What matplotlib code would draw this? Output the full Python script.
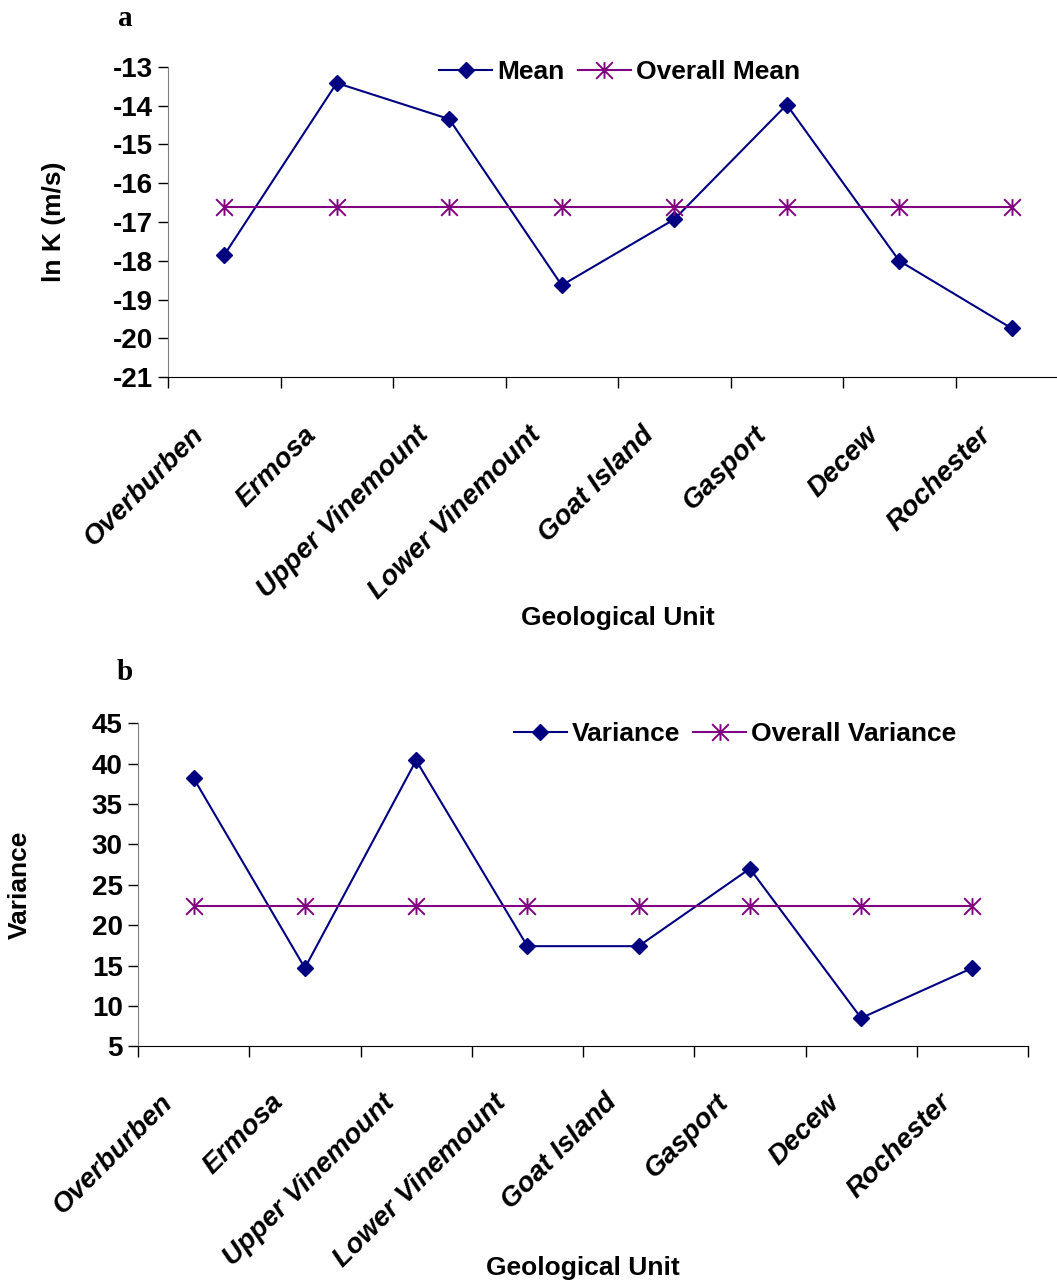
import numpy as np
import matplotlib
matplotlib.use('Agg')
import matplotlib.pyplot as plt
import matplotlib.transforms as mtransforms
from matplotlib.path import Path

units = ['Overburben', 'Ermosa', 'Upper Vinemount', 'Lower Vinemount',
         'Goat Island', 'Gasport', 'Decew', 'Rochester']

mean_lnk = [-17.85, -13.42, -14.35, -18.63, -16.93, -13.98, -18.0, -19.74]
overall_mean = -16.62

variance = [38.2, 14.7, 40.4, 17.4, 17.4, 27.0, 8.5, 14.7]
overall_variance = 22.4

plt.rcParams['font.family'] = ['Liberation Sans', 'DejaVu Sans']
plt.rcParams['font.weight'] = 'bold'
plt.rcParams['axes.unicode_minus'] = False

NAVY = '#000080'
PURPLE = '#800080'

# asterisk marker like the excel one: vertical bar + X
star = Path([(0, -1), (0, 1), (-1, -1), (1, 1), (-1, 1), (1, -1)],
            [Path.MOVETO, Path.LINETO, Path.MOVETO, Path.LINETO, Path.MOVETO, Path.LINETO])

W, H = 1057, 1287
fig = plt.figure(figsize=(W / 100, H / 100), dpi=100)


def make_panel(rect, vals, overall, names, ylim, yticks, ylabel, leg_xy,
               ylab_x, xlab_y, lbl_shift, lbl_pad, tick_fs):
    ax = fig.add_axes(rect)
    x = np.arange(len(units))
    ax.plot(x, vals, color=NAVY, lw=1.5, marker='D', ms=8, label=names[0])
    ax.plot(x, [overall] * len(x), color=PURPLE, lw=1.5, marker=star, ms=12,
            mew=1.4, label=names[1])
    ax.set_xlim(-0.5, len(x) - 0.5)
    ax.set_ylim(*ylim)
    ax.set_yticks(yticks)
    ax.tick_params(axis='y', direction='out', length=7, width=1, labelsize=tick_fs, pad=4)
    for lab in ax.get_yticklabels():
        lab.set_fontweight('bold')

    ax.set_xticks(x)
    ax.set_xticklabels(units, rotation=45, ha='right', va='top',
                       fontsize=20, fontweight='bold', fontstyle='italic')
    ax.tick_params(axis='x', which='major', length=0, pad=lbl_pad)
    ax.set_xticks(np.arange(-0.5, len(x), 1.0), minor=True)
    ax.tick_params(axis='x', which='minor', direction='out', length=8, width=1)
    off = mtransforms.ScaledTranslation(lbl_shift / 100, 0, fig.dpi_scale_trans)
    for lab in ax.get_xticklabels():
        lab.set_transform(lab.get_transform() + off)

    for s in ['top', 'right']:
        ax.spines[s].set_visible(False)
    ax.spines['left'].set_color('#808080')
    ax.spines['bottom'].set_color('black')

    ax.set_ylabel(ylabel, fontsize=19, fontweight='bold')
    ax.yaxis.set_label_coords(ylab_x, 0.5)
    ax.yaxis.label.set_va('center')
    ax.set_xlabel('Geological Unit', fontsize=19, fontweight='bold')
    ax.xaxis.set_label_coords(0.5, xlab_y)
    ax.xaxis.label.set_va('center')

    ax.legend(loc='center', bbox_to_anchor=leg_xy, ncol=2, frameon=False,
              handlelength=2.0, handletextpad=0.2,
              columnspacing=0.5, prop={'weight': 'bold', 'size': 19})
    return ax


make_panel([168 / W, 1 - 377.3 / H, 900 / W, 310.6 / H], mean_lnk, overall_mean,
           ['Mean', 'Overall Mean'], (-21, -13), np.arange(-21, -12, 1),
           'ln K (m/s)', (0.502, 0.983), -0.127, -0.775, -15, 32, 20)

make_panel([138 / W, 1 - 1046.3 / H, 890 / W, 323 / H], variance, overall_variance,
           ['Variance', 'Overall Variance'], (5, 45), np.arange(5, 46, 5),
           'Variance', (0.671, 0.967), -0.1326, -0.686, -16, 31, 20)

fig.text(125 / W, 1 - 18 / H, 'a', family='Liberation Serif', fontsize=21,
         fontweight='bold', ha='center', va='center')
fig.text(125 / W, 1 - 672 / H, 'b', family='Liberation Serif', fontsize=21,
         fontweight='bold', ha='center', va='center')

fig.savefig('out.png', dpi=100)
